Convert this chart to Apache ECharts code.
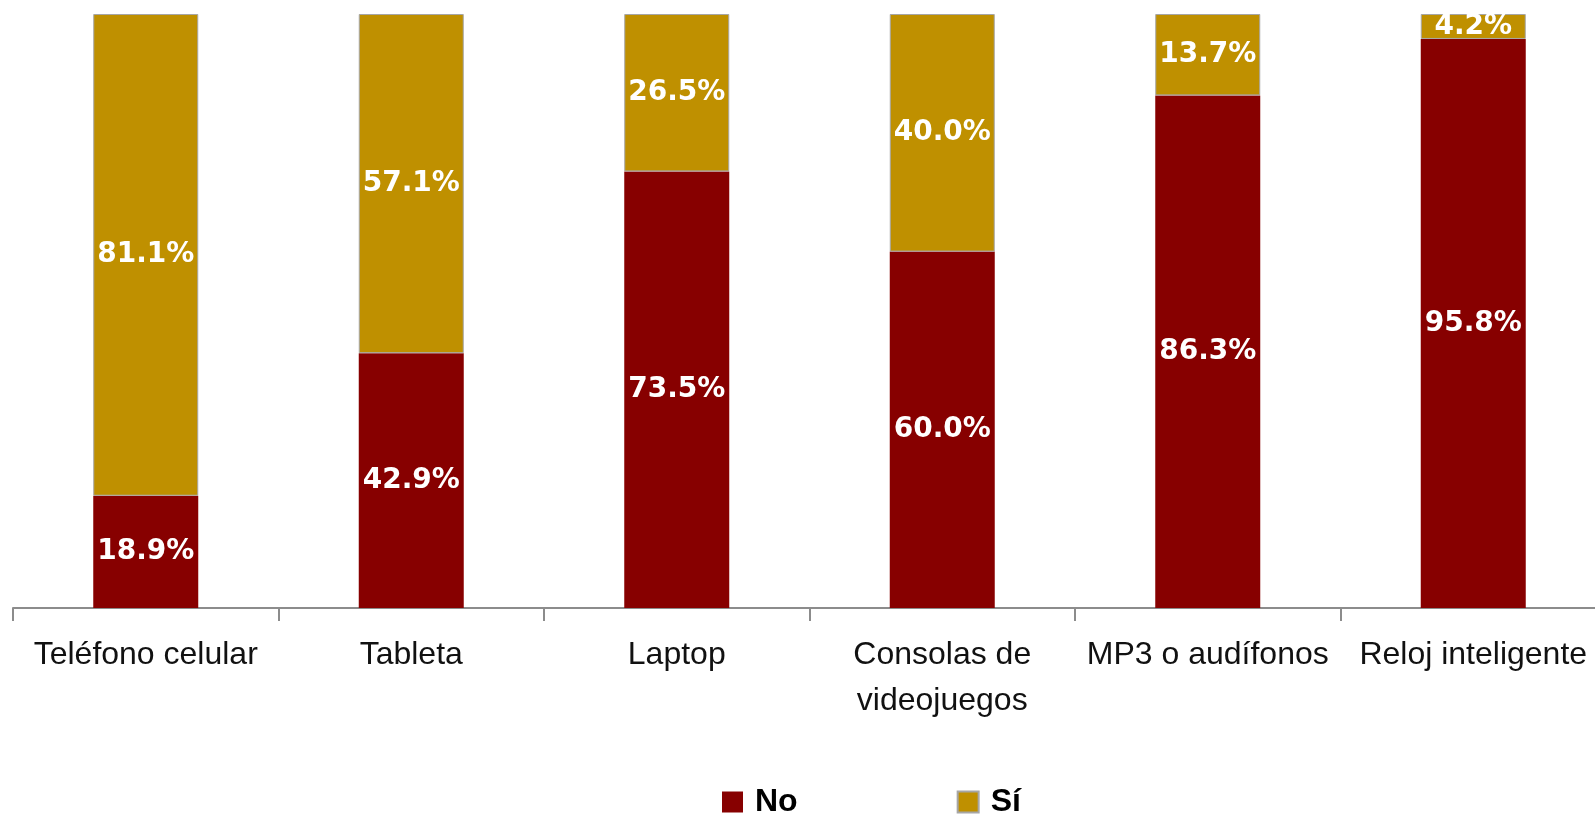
<!DOCTYPE html>
<html>
<head>
<meta charset="utf-8">
<script src="https://cdn.jsdelivr.net/npm/echarts@6/dist/echarts.min.js"></script>
<style>
html,body{margin:0;padding:0;background:#ffffff;}
#chart{width:1595px;height:815px;}
</style>
</head>
<body>
<div id="chart"></div>
<script>
const categories = ['Teléfono celular', 'Tableta', 'Laptop', 'Consolas de\nvideojuegos', 'MP3 o audífonos', 'Reloj inteligente'];
const seriesNames = ['No', 'Sí'];
const noValues = [18.9, 42.9, 73.5, 60.0, 86.3, 95.8];
const siValues = [81.1, 57.1, 26.5, 40.0, 13.7, 4.2];

const chart = echarts.init(document.getElementById('chart'));
const labelCfg = {
  show: true,
  position: 'inside',
  color: '#ffffff',
  fontFamily: 'DejaVu Sans',
  fontWeight: 'bold',
  fontSize: 28,
  formatter: p => p.value.toFixed(1) + '%'
};
chart.setOption({
  backgroundColor: '#ffffff',
  animation: false,
  grid: { left: 13, top: 14, width: 1593, height: 594, containLabel: false, outerBoundsMode: 'none' },
  legend: {
    data: seriesNames,
    left: 717,
    top: 781,
    itemWidth: 21,
    itemHeight: 21,
    itemGap: 159,
    icon: 'rect',
    textStyle: { fontFamily: 'Liberation Sans', fontWeight: 'bold', fontSize: 32, color: '#000000', lineHeight: 32, padding: [0, 0, 0, 7] }
  },
  xAxis: {
    type: 'category',
    data: categories,
    axisLine: { lineStyle: { color: '#8c8c8c', width: 2 } },
    axisTick: { show: true, length: 13, lineStyle: { color: '#8c8c8c', width: 2 } },
    axisLabel: {
      interval: 0,
      margin: 24,
      fontFamily: 'Liberation Sans',
      fontSize: 32,
      lineHeight: 46,
      color: '#111111'
    }
  },
  yAxis: {
    type: 'value',
    min: 0,
    max: 100,
    show: false,
    splitLine: { show: false }
  },
  series: [
    {
      name: seriesNames[0],
      type: 'bar',
      stack: 'total',
      data: noValues,
      barWidth: 105,
      itemStyle: { color: '#870000' },
      label: labelCfg
    },
    {
      name: seriesNames[1],
      type: 'bar',
      stack: 'total',
      data: siValues,
      barWidth: 105,
      itemStyle: { color: '#BF9000', borderColor: '#a6a6a6', borderWidth: 1 },
      label: labelCfg
    }
  ]
});
</script>
</body>
</html>
